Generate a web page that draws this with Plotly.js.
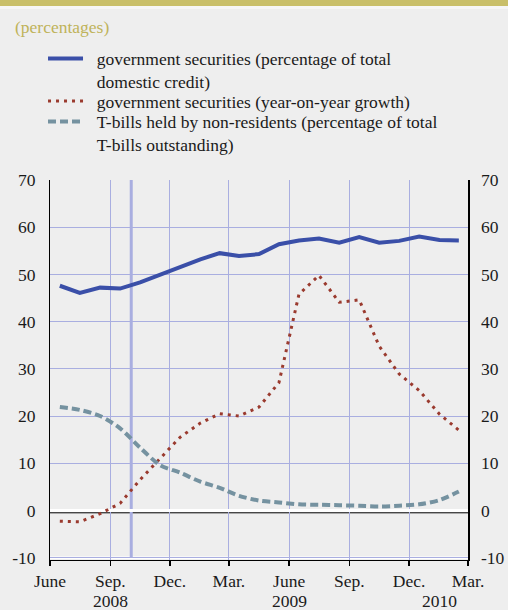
<!DOCTYPE html>
<html>
<head>
<meta charset="utf-8">
<script src="https://cdn.plot.ly/plotly-3.0.1.min.js"></script>
<style>
  html, body { margin: 0; padding: 0; background: #eeeeee; }
  #band { position: absolute; left: 0; top: 0; width: 508px; height: 6px; background: #c9bf69; z-index: 5; }
  #band2 { position: absolute; left: 0; top: 6px; width: 508px; height: 3px; background: #f6f6f6; z-index: 5; }
  #chart { width: 508px; height: 610px; }
</style>
</head>
<body>
<div id="band"></div><div id="band2"></div>
<div id="chart"></div>
<script>
// ---- data ----
const months = ['2008-06','2008-07','2008-08','2008-09','2008-10','2008-11','2008-12',
                '2009-01','2009-02','2009-03','2009-04','2009-05','2009-06','2009-07',
                '2009-08','2009-09','2009-10','2009-11','2009-12','2010-01','2010-02'];
const govShareOfCredit = [47.6, 46.1, 47.2, 47.0, 48.3, 50.0, 51.7, 53.2, 54.5, 53.9, 54.3,
                          56.4, 57.2, 57.6, 56.7, 57.9, 56.7, 57.1, 58.0, 57.3, 57.2];
const govYoYGrowth = [-2.3, -2.4, -0.7, 1.5, 6.5, 11.1, 15.5, 18.5, 20.5, 20.0, 21.9,
                      27.1, 45.8, 49.8, 44.1, 44.6, 34.8, 28.9, 25.4, 20.4, 17.0];
const tbillsNonResidents = [21.9, 21.3, 20.0, 17.4, 13.3, 9.6, 8.0, 6.1, 4.8, 3.1, 2.1,
                            1.7, 1.3, 1.2, 1.1, 1.0, 0.85, 1.0, 1.3, 2.2, 4.0];
const seriesNames = [
  ['government securities (percentage of total', 'domestic credit)'],
  ['government securities (year-on-year growth)'],
  ['T-bills held by non-residents (percentage of total', 'T-bills outstanding)']
];
const tickDates = ['2008-06-01','2008-09-01','2008-12-01','2009-03-01','2009-06-01','2009-09-01','2009-12-01','2010-03-01'];
const tickText = ['June','Sep.','Dec.','Mar.','June','Sep.','Dec.','Mar.'];
const yearLabels = ['2008','2009','2010'];
const yearLabelDates = ['2008-09-01','2009-06-01','2010-01-16'];
const markerDate = '2008-10-03';
const yTicks = [-10, 0, 10, 20, 30, 40, 50, 60, 70];
const yTickText = ['-10', '0', '10', '20', '30', '40', '50', '60', '70'];

const FONT = 'Liberation Serif, Times New Roman, serif';
const FS = 17.5;
const GRID = '#a9aee0';
const TXT = '#1a1a1a';
const PAD = '\u00A0\u00A0';
const legendLabel = lines => lines.map(l => PAD + l).join('<br>');

const common = { x: months, xperiod: 'M1', xperiodalignment: 'middle', mode: 'lines', hoverinfo: 'skip' };

const traces = [
  Object.assign({}, common, { y: govShareOfCredit, name: legendLabel(seriesNames[0]), legend: 'legend',
    line: { color: '#3a4fa8', width: 4 } }),
  Object.assign({}, common, { y: govYoYGrowth, name: legendLabel(seriesNames[1]), legend: 'legend2',
    line: { color: '#9a3a2e', width: 3, dash: '3px,5px' } }),
  Object.assign({}, common, { y: tbillsNonResidents, name: legendLabel(seriesNames[2]), legend: 'legend3',
    line: { color: '#7592a0', width: 4, dash: '8px,4px', shape: 'spline', smoothing: 0.8 } })
];

const yRange = [-10.5, 70];
const legendBase = { x: -0.0167, xanchor: 'left', yanchor: 'top', bgcolor: 'rgba(0,0,0,0)',
  font: { family: FONT, size: FS, color: TXT }, itemwidth: 35, valign: 'top' };

const layout = {
  width: 508, height: 610,
  paper_bgcolor: '#eeeeee', plot_bgcolor: '#eeeeee',
  margin: { l: 50, r: 40, t: 180, b: 50 },
  font: { family: FONT, size: FS, color: TXT },
  title: { text: '(percentages)', font: { family: FONT, size: FS, color: '#bfb35a' },
           xref: 'container', yref: 'container', x: 15/508, xanchor: 'left', y: 1 - 27/610, yanchor: 'middle' },
  showlegend: true,
  legend: Object.assign({}, legendBase, { y: 1.3668 }),
  legend2: Object.assign({}, legendBase, { y: 1.2550 }),
  legend3: Object.assign({}, legendBase, { y: 1.2011 }),
  xaxis: {
    type: 'date', range: ['2008-06-01', '2010-03-01'],
    tickmode: 'array', tickvals: tickDates, ticktext: tickText,
    showgrid: true, gridcolor: GRID, gridwidth: 1,
    showline: true, linecolor: '#000', linewidth: 1,
    ticks: 'outside', ticklen: 5, tickcolor: '#000', tickwidth: 1.5,
    tickfont: { family: FONT, size: FS, color: TXT },
    zeroline: false, fixedrange: true
  },
  yaxis: {
    range: yRange, tickmode: 'array', tickvals: yTicks, ticktext: yTickText,
    showgrid: true, gridcolor: GRID, gridwidth: 1,
    showline: true, linecolor: '#000', linewidth: 1,
    ticks: '', ticklabelstandoff: 10,
    zeroline: true, zerolinecolor: '#ffffff', zerolinewidth: 3,
    tickfont: { family: FONT, size: FS, color: TXT }, fixedrange: true
  },
  yaxis2: {
    range: yRange, tickmode: 'array', tickvals: yTicks, ticktext: yTickText, overlaying: 'y', side: 'right',
    showgrid: false, showline: true, linecolor: '#000', linewidth: 1.5,
    ticks: '', ticklabelstandoff: 8, zeroline: false,
    tickfont: { family: FONT, size: FS, color: TXT }, fixedrange: true
  },
  shapes: [
    { type: 'line', xref: 'x', yref: 'y', x0: markerDate, x1: markerDate, y0: -10, y1: 70,
      line: { color: GRID, width: 3 }, layer: 'below' },
    { type: 'line', xref: 'paper', yref: 'y', x0: 0, x1: 1, y0: -10, y1: -10,
      line: { color: '#ffffff', width: 2.5 }, layer: 'below' },
    { type: 'line', xref: 'paper', yref: 'y', x0: 0, x1: 1, y0: -0.5, y1: -0.5,
      line: { color: '#000000', width: 1 }, layer: 'below' }
  ],
  annotations: yearLabels.map((t, i) => ({
    text: t, xref: 'x', yref: 'paper', x: yearLabelDates[i], y: -0.108,
    xanchor: 'center', yanchor: 'middle', showarrow: false,
    font: { family: FONT, size: FS, color: TXT }
  }))
};

// invisible anchor so the right-hand axis is drawn
traces.push({ x: [months[0]], y: [null], yaxis: 'y2', showlegend: false, hoverinfo: 'skip', mode: 'lines' });

Plotly.newPlot('chart', traces, layout, { staticPlot: true, displayModeBar: false });
</script>
</body>
</html>
